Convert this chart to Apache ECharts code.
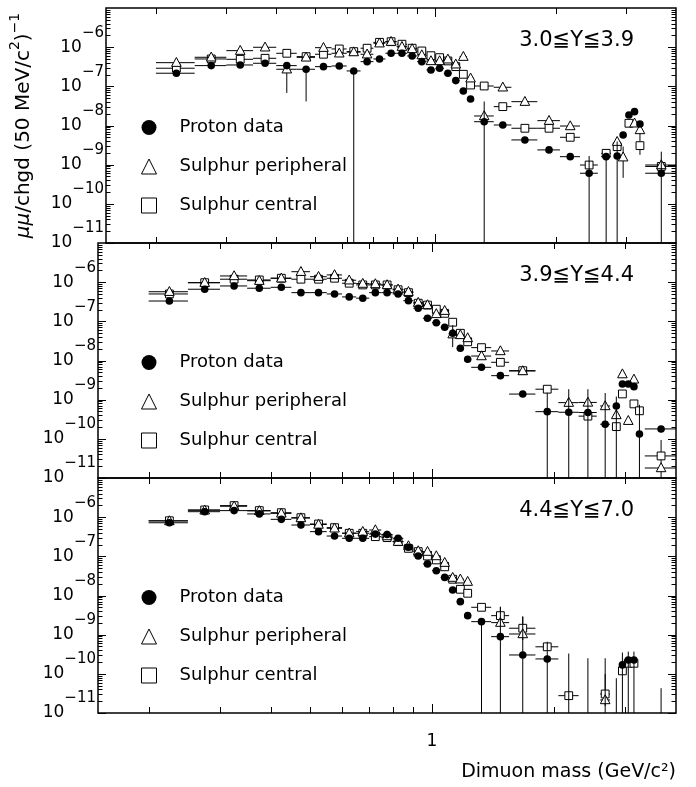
<!DOCTYPE html>
<html>
<head>
<meta charset="utf-8">
<script src="https://cdn.jsdelivr.net/npm/echarts@6/dist/echarts.min.js"></script>
<style>
html,body{margin:0;padding:0;background:#fff;}
#chart{width:696px;height:787px;}
</style>
</head>
<body>
<div id="chart"></div>
<script>
// ---------- data: [mass (GeV/c2), bin half width, value, lower error end, upper error end] ----------
// panel labels
const panelLabels = ['3.0\u2266Y\u22663.9', '3.9\u2266Y\u22664.4', '4.4\u2266Y\u22667.0'];
const seriesNames = ['Proton data', 'Sulphur peripheral', 'Sulphur central'];

const topProton = [
[0.225,0.025,2.16e-7],[0.275,0.025,3.38e-7],[0.325,0.025,3.51e-7],[0.375,0.025,3.88e-7],
[0.425,0.025,3.38e-7],[0.475,0.025,2.73e-7,4.1e-8,null],[0.525,0.025,3.18e-7],[0.575,0.025,3.31e-7],
[0.625,0.025,2.47e-7,1e-13,null],[0.675,0.025,4.27e-7],[0.725,0.025,5.0e-7],[0.775,0.025,6.98e-7],
[0.825,0.025,6.98e-7],[0.875,0.025,5.96e-7],[0.925,0.025,4.27e-7],[0.975,0.025,2.62e-7],
[1.025,0.025,2.89e-7],[1.075,0.025,2.16e-7],[1.125,0.025,1.40e-7],[1.175,0.025,7.62e-8],
[1.225,0.025,4.76e-8],[1.325,0.075,1.25e-8,1e-13,4.1e-8],[1.475,0.075,1.03e-8],[1.675,0.125,4.28e-9],
[1.925,0.125,2.38e-9],[2.175,0.125,1.60e-9],[2.425,0.125,6.04e-10,1e-13,1.67e-9],[2.675,0.075,1.60e-9,1e-13,null],
[2.85,0.05,1.67e-9,1e-13,3.9e-9],[2.95,0.05,5.74e-9],[3.05,0.05,1.86e-8],[3.15,0.05,2.26e-8],
[3.25,0.05,1.09e-8],[3.675,0.325,6.04e-10,1e-13,2.15e-9]
];
const topPeripheral = [
[0.225,0.025,4.02e-7],[0.275,0.025,5.52e-7],[0.325,0.025,8.15e-7],[0.375,0.025,9.94e-7],
[0.425,0.025,2.73e-7,6.8e-8,null],[0.475,0.025,5.5e-7],[0.525,0.025,9.7e-7],[0.575,0.025,6.98e-7],
[0.625,0.025,7.5e-7],[0.675,0.025,6.6e-7],[0.725,0.025,1.26e-6],[0.775,0.025,1.38e-6],
[0.825,0.025,1.03e-6],[0.875,0.025,9.0e-7],[0.925,0.025,6.3e-7],[0.975,0.025,4.45e-7],
[1.025,0.025,4.45e-7],[1.075,0.025,4.91e-7],[1.125,0.025,3.66e-7],[1.175,0.025,5.72e-7],
[1.225,0.025,1.61e-7],[1.325,0.075,1.75e-8],[1.475,0.075,9.46e-8],[1.675,0.125,4.06e-8],
[1.925,0.125,1.33e-8],[2.175,0.125,9.7e-9],[2.85,0.05,3.86e-9],[2.95,0.05,1.55e-9,4.6e-10,2.9e-9],
[3.15,0.05,1.14e-8],[3.25,0.05,7.7e-9],[3.675,0.325,9.8e-10]
];
const topCentral = [
[0.225,0.025,2.9e-7],[0.275,0.025,5.0e-7],[0.325,0.025,4.9e-7],[0.375,0.025,5.2e-7],
[0.425,0.025,6.98e-7],[0.475,0.025,5.73e-7],[0.525,0.025,6.6e-7],[0.575,0.025,9.0e-7],
[0.625,0.025,7.7e-7],[0.675,0.025,9.4e-7],[0.725,0.025,1.33e-6],[0.775,0.025,1.38e-6],
[0.825,0.025,1.19e-6],[0.875,0.025,9.4e-7],[0.925,0.025,8.0e-7],[0.975,0.025,6.06e-7],
[1.025,0.025,5.4e-7],[1.075,0.025,4.45e-7],[1.125,0.025,3.18e-7],[1.175,0.025,2.03e-7],
[1.225,0.025,1.08e-7],[1.325,0.075,1.02e-7],[1.475,0.075,3.03e-8],[1.675,0.125,8.5e-9],
[1.925,0.125,8.5e-9],[2.175,0.125,5.0e-9],[2.425,0.125,9.8e-10],[2.675,0.075,1.95e-9],
[2.85,0.05,2.88e-9],[3.05,0.05,1.14e-8],[3.25,0.05,3.06e-9,1.78e-9,9.3e-9],[3.675,0.325,9.0e-10]
];

const midProton = [
[0.225,0.025,3.3e-7],[0.275,0.025,6.6e-7],[0.325,0.025,8.0e-7],[0.375,0.025,7.0e-7],
[0.425,0.025,7.4e-7],[0.475,0.025,5.4e-7],[0.525,0.025,5.4e-7],[0.575,0.025,5.0e-7],
[0.625,0.025,4.2e-7],[0.675,0.025,3.9e-7],[0.725,0.025,5.4e-7],[0.775,0.025,5.4e-7],
[0.825,0.025,5.0e-7],[0.875,0.025,3.37e-7],[0.925,0.025,2.15e-7],[0.975,0.025,1.2e-7],
[1.025,0.025,9.2e-8],[1.075,0.025,7.06e-8],[1.125,0.025,4.96e-8],[1.175,0.025,2.05e-8],
[1.225,0.025,1.08e-8],[1.325,0.075,6.7e-9],[1.475,0.075,4.1e-9],[1.675,0.125,1.39e-9],
[1.925,0.125,4.94e-10,1e-13,1.5e-9],[2.175,0.125,4.77e-10,1e-13,1.85e-9],[2.425,0.125,4.7e-10,1e-13,1.85e-9],
[2.675,0.075,2.36e-10,1e-13,1.48e-9],[2.85,0.05,6.9e-10,1e-13,1.2e-9],[2.95,0.05,2.52e-9],
[3.05,0.05,2.52e-9],[3.15,0.05,2.15e-9],[3.25,0.05,1.33e-10,1e-13,7.4e-10],[3.675,0.325,1.79e-10]
];
const midPeripheral = [
[0.225,0.025,5.7e-7],[0.275,0.025,9.7e-7],[0.325,0.025,1.44e-6],[0.375,0.025,1.09e-6],
[0.425,0.025,1.26e-6],[0.475,0.025,1.85e-6],[0.525,0.025,1.38e-6],[0.575,0.025,1.53e-6],
[0.625,0.025,1.12e-6],[0.675,0.025,9.2e-7],[0.725,0.025,9.0e-7],[0.775,0.025,8.5e-7],
[0.825,0.025,6.6e-7],[0.875,0.025,5.7e-7],[0.925,0.025,3.0e-7],[0.975,0.025,2.62e-7],
[1.025,0.025,1.55e-7],[1.075,0.025,1.87e-7],[1.125,0.025,4.7e-8,2.2e-8,8.0e-8],[1.175,0.025,4.5e-8],
[1.225,0.025,3.76e-8],[1.325,0.075,1.3e-8],[1.475,0.075,1.75e-8],[1.675,0.125,5.4e-9],
[2.175,0.125,8.4e-10],[2.425,0.125,8.5e-10],[2.675,0.075,6.9e-10],[2.85,0.05,4.07e-10],
[2.95,0.05,4.5e-9],[3.05,0.05,2.9e-10],[3.15,0.05,3.3e-9],[3.675,0.325,1.8e-11]
];
const midCentral = [
[0.225,0.025,5.0e-7],[0.275,0.025,9.7e-7],[0.325,0.025,1.19e-6],[0.375,0.025,1.14e-6],
[0.425,0.025,1.26e-6],[0.475,0.025,1.19e-6],[0.525,0.025,1.19e-6],[0.575,0.025,1.26e-6],
[0.625,0.025,9.4e-7],[0.675,0.025,8.5e-7],[0.725,0.025,8.5e-7],[0.775,0.025,8.5e-7],
[0.825,0.025,6.4e-7],[0.875,0.025,5.4e-7],[0.925,0.025,2.9e-7],[0.975,0.025,2.6e-7],
[1.025,0.025,2.04e-7],[1.075,0.025,1.6e-7],[1.125,0.025,9.5e-8],[1.175,0.025,4.96e-8],
[1.225,0.025,3.0e-8],[1.325,0.075,2.13e-8],[1.475,0.075,9.0e-9],[1.675,0.125,5.5e-9],
[1.925,0.125,1.85e-9],[2.425,0.125,3.8e-10],[2.85,0.05,2.05e-10],[2.95,0.05,1.4e-9],
[3.15,0.05,7.8e-10],[3.25,0.05,5.2e-10],[3.675,0.325,3.66e-11,1e-13,9.3e-11]
];

const botProton = [
[0.225,0.025,7.2e-7],[0.275,0.025,1.38e-6],[0.325,0.025,1.47e-6],[0.375,0.025,1.21e-6],
[0.425,0.025,8.8e-7],[0.475,0.025,6.3e-7],[0.525,0.025,4.27e-7],[0.575,0.025,3.3e-7],
[0.625,0.025,2.89e-7],[0.675,0.025,2.89e-7],[0.725,0.025,3.7e-7],[0.775,0.025,3.6e-7],
[0.825,0.025,2.89e-7],[0.875,0.025,1.7e-7],[0.925,0.025,1.02e-7],[0.975,0.025,6.4e-8],
[1.025,0.025,4.3e-8],[1.075,0.025,2.9e-8],[1.125,0.025,1.38e-8],[1.175,0.025,6.96e-9],
[1.225,0.025,3.06e-9],[1.325,0.075,2.15e-9,1e-13,null],[1.475,0.075,8.9e-10,1e-13,5.2e-9],
[1.675,0.125,3.03e-10,1e-13,2.9e-9],[1.925,0.125,2.4e-10,1e-13,6.6e-10],
[2.175,0.125,null,1e-13,3.3e-10],[2.425,0.125,null,1e-13,2.5e-10],[2.675,0.075,null,1e-13,2.5e-10],
[2.85,0.05,null,1e-13,7.7e-11],[2.95,0.05,1.69e-10,1e-13,3.5e-10],[3.05,0.05,2.26e-10,1e-13,3.7e-10],
[3.15,0.05,2.26e-10,1e-13,3.7e-10],[3.675,0.325,null,1e-13,4.3e-11]
];
const botPeripheral = [
[0.225,0.025,8.0e-7],[0.275,0.025,1.5e-6],[0.325,0.025,1.9e-6],[0.375,0.025,1.45e-6],
[0.425,0.025,1.25e-6],[0.475,0.025,9.5e-7],[0.525,0.025,6.5e-7],[0.575,0.025,5.2e-7],
[0.625,0.025,3.9e-7],[0.675,0.025,4.27e-7],[0.725,0.025,4.7e-7],[0.775,0.025,3.3e-7],
[0.825,0.025,2.37e-7],[0.875,0.025,1.84e-7],[0.925,0.025,1.37e-7],[0.975,0.025,1.32e-7],
[1.025,0.025,1.02e-7],[1.075,0.025,6.9e-8],[1.125,0.025,2.86e-8],[1.175,0.025,2.6e-8],
[1.225,0.025,2.26e-8],[1.475,0.075,2.03e-9],[1.675,0.125,1.04e-9],[2.675,0.075,2.15e-11]
];
const botCentral = [
[0.225,0.025,8.1e-7],[0.275,0.025,1.53e-6],[0.325,0.025,1.97e-6],[0.375,0.025,1.47e-6],
[0.425,0.025,1.3e-6],[0.475,0.025,9.7e-7],[0.525,0.025,6.7e-7],[0.575,0.025,5.4e-7],
[0.625,0.025,3.88e-7],[0.675,0.025,3.88e-7],[0.725,0.025,3.18e-7],[0.775,0.025,3.0e-7],
[0.825,0.025,2.37e-7],[0.875,0.025,1.6e-7],[0.925,0.025,1.32e-7],[0.975,0.025,1.02e-7],
[1.025,0.025,8.1e-8],[1.075,0.025,5.4e-8],[1.125,0.025,2.6e-8],[1.175,0.025,1.44e-8],
[1.225,0.025,1.14e-8],[1.325,0.075,5.0e-9],[1.475,0.075,3.06e-9,2.2e-9,5.0e-9],
[1.675,0.125,1.46e-9,7.3e-10,2.9e-9],[1.925,0.125,4.9e-10],[2.175,0.125,2.77e-11],
[2.675,0.075,3.06e-11,1.5e-11,1.0e-10],[2.95,0.05,1.19e-10],[3.05,0.05,1.86e-10],[3.15,0.05,1.86e-10]
];

// axis ticks
const xMinorTicks = [0.2,0.3,0.4,0.5,0.6,0.7,0.8,0.9,2,3];
const xMajorTicks = [1];
const yDecades = [-11,-10,-9,-8,-7,-6];
const yMantissas = [2,3,4,5,6,7,8,9];

// ---------- layout ----------
const FONT = 'DejaVu Sans';
const GL = 98, GR = 20, GT = 8, GH = 235;
const panels = [
  [topProton, topPeripheral, topCentral],
  [midProton, midPeripheral, midCentral],
  [botProton, botPeripheral, botCentral]
];

function markerFor(kind, c) {
  if (kind === 0) return {type:'circle', shape:{cx:c[0], cy:c[1], r:3.8}, style:{fill:'#000'}};
  if (kind === 1) return {type:'polygon', shape:{points:[[c[0], c[1]-5.2],[c[0]-4.8, c[1]+3.7],[c[0]+4.8, c[1]+3.7]]}, style:{fill:'#fff', stroke:'#000', lineWidth:1}};
  return {type:'rect', shape:{x:c[0]-3.9, y:c[1]-3.9, width:7.8, height:7.8}, style:{fill:'#fff', stroke:'#000', lineWidth:1}};
}

function dataSeries(rows, kind, gi) {
  return {
    type:'custom', name: seriesNames[kind], xAxisIndex:gi, yAxisIndex:gi, clip:true, silent:true,
    z: 3 + (2 - kind),
    itemStyle: {color: kind === 0 ? '#000' : '#fff', borderColor:'#000', borderWidth:1},
    data: rows.map(r => [r[0], r[2] != null ? r[2] : r[3]]),
    renderItem: function (params, api) {
      const r = rows[params.dataIndex];
      const m = r[0], hw = r[1], v = r[2], lo = r[3], hi = r[4];
      const ch = [];
      const ls = {stroke:'#000', lineWidth:1};
      if (v != null) {
        const a = api.coord([m - hw, v]), b = api.coord([m + hw, v]);
        ch.push({type:'line', shape:{x1:a[0], y1:a[1], x2:b[0], y2:b[1]}, style:ls});
      }
      if (lo != null || hi != null) {
        const t = api.coord([m, hi != null ? hi : v]);
        const bt = api.coord([m, lo != null ? lo : v]);
        ch.push({type:'line', shape:{x1:t[0], y1:t[1], x2:bt[0], y2:bt[1]}, style:ls});
      }
      if (v != null) ch.push(markerFor(kind, api.coord([m, v])));
      return {type:'group', children: ch};
    }
  };
}

function tickSeries(gi) {
  const rows = [];
  yDecades.forEach(d => {
    rows.push(['y', Math.pow(10, d), 8]);
    yMantissas.forEach(mt => rows.push(['y', mt * Math.pow(10, d), 4.5]));
  });
  xMinorTicks.forEach(v => rows.push(['x', v, 6]));
  xMajorTicks.forEach(v => rows.push(['x', v, 9]));
  return {
    type:'custom', xAxisIndex:gi, yAxisIndex:gi, silent:true, z:2,
    data: rows.map(r => r[0] === 'y' ? [1, r[1]] : [r[1], 1e-8]),
    renderItem: function (params, api) {
      const r = rows[params.dataIndex];
      const cs = params.coordSys;
      const ls = {stroke:'#000', lineWidth:1};
      if (r[0] === 'y') {
        const y = Math.round(api.coord([1, r[1]])[1]) + 0.5;
        return {type:'group', children:[
          {type:'line', shape:{x1:cs.x, y1:y, x2:cs.x + r[2], y2:y}, style:ls},
          {type:'line', shape:{x1:cs.x + cs.width - r[2], y1:y, x2:cs.x + cs.width, y2:y}, style:ls}
        ]};
      }
      const x = Math.round(api.coord([r[1], 1e-8])[0]) + 0.5;
      return {type:'group', children:[
        {type:'line', shape:{x1:x, y1:cs.y, x2:x, y2:cs.y + r[2]}, style:ls},
        {type:'line', shape:{x1:x, y1:cs.y + cs.height - r[2], x2:x, y2:cs.y + cs.height}, style:ls}
      ]};
    }
  };
}

const grids = [], xAxes = [], yAxes = [], series = [], legends = [], titles = [];
panels.forEach((p, gi) => {
  grids.push({left:GL, right:GR, top:GT + GH * gi, height:GH, show:true, borderColor:'#000', borderWidth:1.5, backgroundColor:'transparent'});
  xAxes.push({
    type:'log', logBase:10, min:0.15, max:4, gridIndex:gi,
    axisLine:{show:false}, axisTick:{show:false}, splitLine:{show:false},
    axisLabel:{show: gi === 2, margin:20, color:'#000', fontFamily:FONT, fontSize:17,
      formatter: v => Math.abs(Math.log10(v)) < 1e-6 ? '1' : ''}
  });
  const ya = {
    type:'log', logBase:10, min:1e-11, max:1e-5, gridIndex:gi,
    axisLine:{show:false}, axisTick:{show:false}, splitLine:{show:false},
    axisLabel:{margin:2, color:'#000', fontFamily:FONT,
      formatter: v => { const e = Math.round(Math.log10(v)); if (e > -6 || e < -11) return ''; return '{b|10}{s|\u2212' + (-e) + '}'; },
      rich:{
        b:{fontSize:17, fontFamily:FONT, color:'#000', lineHeight:44, verticalAlign:'middle'},
        s:{fontSize:15, fontFamily:FONT, color:'#000', lineHeight:17, verticalAlign:'top'}
      }
    }
  };
  if (gi === 0) {
    ya.name = '{i|\u03bc\u03bc}{n|/chgd (50 MeV/c}{s|2}{n|)}{s|\u22121}';
    ya.nameLocation = 'middle';
    ya.nameRotate = 90;
    ya.nameGap = 66;
    ya.nameTextStyle = {color:'#000', fontFamily:FONT, fontSize:20, rich:{
      i:{fontSize:20, fontStyle:'italic', fontFamily:FONT, color:'#000', lineHeight:32, verticalAlign:'middle'},
      n:{fontSize:20, fontFamily:FONT, color:'#000', lineHeight:32, verticalAlign:'middle'},
      s:{fontSize:14, fontFamily:FONT, color:'#000', lineHeight:15, verticalAlign:'top'}
    }};
  }
  yAxes.push(ya);
  series.push(tickSeries(gi));
  series.push(dataSeries(p[2], 2, gi));
  series.push(dataSeries(p[1], 1, gi));
  series.push(dataSeries(p[0], 0, gi));
  legends.push({
    orient:'vertical', left:141, top:118.5 + GH * gi, padding:0,
    itemWidth:15, itemHeight:15, itemGap:21, selectedMode:false,
    textStyle:{fontSize:18, fontFamily:FONT, color:'#000', lineHeight:15, padding:[0,0,0,18]},
    data:[
      {name:seriesNames[0], icon:'circle', itemStyle:{color:'#000', borderWidth:0}},
      {name:seriesNames[1], icon:'triangle', itemStyle:{color:'#fff', borderColor:'#000', borderWidth:1}},
      {name:seriesNames[2], icon:'rect', itemStyle:{color:'#fff', borderColor:'#000', borderWidth:1}}
    ]
  });
  titles.push({text: panelLabels[gi], right:62, top:30 + GH * gi, padding:0,
    textStyle:{fontSize:21, fontWeight:'normal', fontFamily:FONT, color:'#000'}});
});
titles.push({text:'Dimuon mass (GeV/c\u00b2)', right:20, top:763, padding:0,
  textStyle:{fontSize:19, fontWeight:'normal', fontFamily:FONT, color:'#000'}});

const chart = echarts.init(document.getElementById('chart'), null, {renderer:'canvas'});
chart.setOption({
  animation:false,
  backgroundColor:'#fff',
  title: titles,
  legend: legends,
  grid: grids,
  xAxis: xAxes,
  yAxis: yAxes,
  series: series
});
</script>
</body>
</html>
